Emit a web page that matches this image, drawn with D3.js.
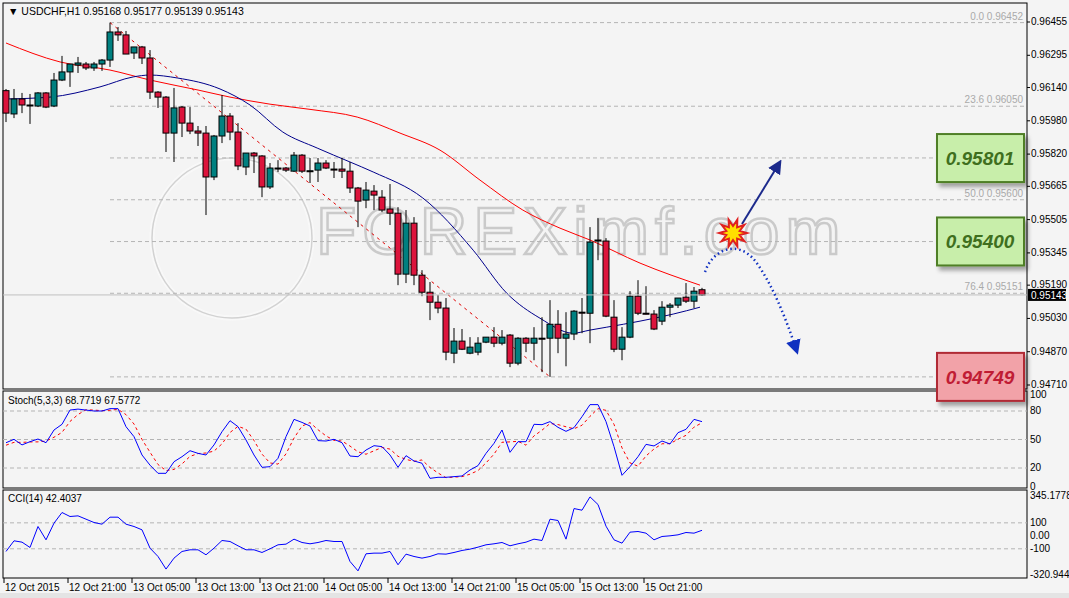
<!DOCTYPE html>
<html>
<head>
<meta charset="utf-8">
<script src="https://cdn.jsdelivr.net/npm/d3@7"></script>
<style>
  body { margin: 0; background: #e9e9e9; }
  text { font-family: Tahoma, "Liberation Sans", Arial, sans-serif; }
</style>
</head>
<body>
<script>
var WIDTH = 1069;
var HEIGHT = 598;

// candles, one per H1 bar, 12 Oct 13:00 .. 16 Oct 04:00
var opens  = [0.96125,0.96013,0.96085,0.96056,0.96051,0.96114,0.96051,0.96176,0.96215,0.96248,0.96253,0.96234,0.96253,0.96272,0.96407,0.96393,0.96306,0.96335,0.96282,0.96118,0.96094,0.95921,0.96046,0.95969,0.95931,0.95921,0.95710,0.95907,0.96003,0.95926,0.95758,0.95825,0.95811,0.95662,0.95753,0.95753,0.95738,0.95815,0.95738,0.95743,0.95777,0.95748,0.95748,0.95738,0.95657,0.95599,0.95642,0.95613,0.95556,0.95536,0.95243,0.95488,0.95238,0.95156,0.95108,0.95080,0.94863,0.94921,0.94863,0.94868,0.94916,0.94940,0.94911,0.94950,0.94815,0.94935,0.94911,0.94935,0.94935,0.95002,0.94935,0.94955,0.95060,0.95055,0.95407,0.95402,0.95036,0.94882,0.94940,0.95137,0.95055,0.95051,0.95017,0.95084,0.95094,0.95132,0.95113,0.95168];
var highs  = [0.96133,0.96133,0.96114,0.96109,0.96118,0.96118,0.96210,0.96292,0.96253,0.96287,0.96263,0.96263,0.96277,0.96452,0.96431,0.96412,0.96335,0.96340,0.96320,0.96123,0.96099,0.96138,0.96051,0.96046,0.95955,0.95955,0.95912,0.96104,0.96017,0.95969,0.95825,0.95830,0.95815,0.95777,0.95791,0.95758,0.95830,0.95820,0.95801,0.95801,0.95791,0.95782,0.95801,0.95782,0.95662,0.95686,0.95671,0.95647,0.95676,0.95565,0.95551,0.95517,0.95262,0.95205,0.95142,0.95128,0.94984,0.94979,0.94940,0.94940,0.94940,0.94988,0.94974,0.94955,0.94940,0.94940,0.94988,0.95036,0.95118,0.95070,0.95060,0.95070,0.95128,0.95469,0.95512,0.95416,0.95118,0.94988,0.95161,0.95214,0.95185,0.95070,0.95113,0.95104,0.95128,0.95200,0.95181,0.95177];
var lows   = [0.95974,0.95993,0.96017,0.95965,0.96046,0.96041,0.96046,0.96171,0.96143,0.96210,0.96224,0.96220,0.96220,0.96239,0.96364,0.96301,0.96277,0.96253,0.96085,0.96042,0.95830,0.95782,0.95902,0.95916,0.95859,0.95527,0.95695,0.95873,0.95887,0.95743,0.95719,0.95729,0.95613,0.95652,0.95734,0.95734,0.95734,0.95729,0.95681,0.95686,0.95748,0.95705,0.95705,0.95633,0.95469,0.95560,0.95551,0.95541,0.95479,0.95190,0.95200,0.95190,0.95137,0.95022,0.95055,0.94829,0.94815,0.94878,0.94858,0.94853,0.94911,0.94892,0.94901,0.94796,0.94805,0.94868,0.94829,0.94772,0.94749,0.94863,0.94800,0.94926,0.94959,0.94911,0.95310,0.95036,0.94868,0.94829,0.94935,0.95046,0.95050,0.94974,0.94998,0.95036,0.95080,0.95104,0.95080,0.95139];
var closes = [0.96017,0.96085,0.96056,0.96054,0.96114,0.96046,0.96176,0.96215,0.96253,0.96258,0.96234,0.96253,0.96272,0.96407,0.96393,0.96301,0.96335,0.96282,0.96118,0.96094,0.95921,0.96042,0.95969,0.95931,0.95921,0.95710,0.95907,0.96003,0.95926,0.95763,0.95825,0.95811,0.95662,0.95753,0.95750,0.95743,0.95815,0.95738,0.95740,0.95777,0.95753,0.95746,0.95738,0.95657,0.95594,0.95647,0.95623,0.95551,0.95536,0.95243,0.95488,0.95238,0.95156,0.95108,0.95080,0.94868,0.94921,0.94882,0.94892,0.94911,0.94940,0.94911,0.94940,0.94815,0.94935,0.94911,0.94935,0.94933,0.95002,0.94935,0.94955,0.95065,0.95058,0.95397,0.95405,0.95041,0.94882,0.94940,0.95137,0.95055,0.95053,0.94979,0.95084,0.95094,0.95128,0.95113,0.95161,0.95143];

// moving averages sampled at bar positions [bar, price]
var maSlow = [[0,0.96354],[6.75,0.96263],[13,0.96224],[18,0.96176],[24,0.96128],[28,0.96094],[33,0.96060],[38,0.96035],[43.9,0.95998],[49.25,0.95921],[54.25,0.95839],[59.25,0.95695],[64.6,0.95551],[69.25,0.95464],[73,0.95407],[79.25,0.95296],[86.75,0.95190]];
var maFast = [[0,0.96085],[5.5,0.96094],[11.75,0.96143],[15.9,0.96191],[18,0.96200],[21.4,0.96186],[26.75,0.96133],[30.5,0.96056],[34.6,0.95926],[38.9,0.95849],[43,0.95782],[45.9,0.95734],[52.1,0.95609],[58.4,0.95358],[62.6,0.95151],[66.75,0.95031],[70.9,0.94959],[73,0.94974],[75.1,0.94988],[79.25,0.95017],[83.4,0.95051],[86.75,0.95084]];

var stochK = [46.6,50.2,44.3,47.7,50.5,46.6,60,66,81,82,81,80,80,82.5,82.5,63.5,53,33.7,23,14.4,14.4,26.6,31.9,38.2,35.4,33.7,44.3,58.2,69.8,63.5,49.5,33.7,20.7,21.4,30.2,53,71.2,68,64.2,48.8,48.4,50.2,46.6,32.6,31.9,
  38.9,43.5,42.5,33.7,20.7,33,27.4,25,9.1,10.2,10.2,10.9,11.6,17.9,22.5,35.4,46,60,36.5,47.7,47.7,66,65.6,68.8,62.8,58.6,62.5,74,86.7,86.7,68.8,42.5,12.3,21.4,31.9,44.9,43.2,48.4,45.3,57.2,60.7,71.2,68.8];
var stochD = [44.0,47.0,47.0,47.4,47.5,48.3,52.4,57.5,69.0,76.3,81.3,81.0,80.3,80.8,81.7,76.2,66.3,50.1,36.6,23.7,17.3,18.5,24.3,32.2,35.2,35.8,37.8,45.4,57.4,63.8,60.9,48.9,34.6,25.3,24.1,34.9,51.5,64.1,67.8,60.3,53.8,49.1,48.4,43.1,37.0,
  34.5,38.1,41.6,39.9,32.3,29.1,27.0,28.5,20.5,14.8,9.8,10.4,10.9,13.5,17.3,25.3,34.6,47.1,47.5,48.1,44.0,53.8,59.8,66.8,65.7,63.4,61.3,65.0,74.4,82.5,80.7,66.0,41.2,25.4,21.9,32.7,40.0,45.5,45.6,50.3,54.4,63.0,67.6];
var cci = [-120.5,-38.5,-48.7,-89.7,71.8,-30.8,97.4,179.5,148.7,153.8,128.2,102.6,89.7,143.6,143.6,89.7,71.8,46.2,-94.9,-159,-256,-171.8,-120.5,-107.7,-107.7,-146,-94.9,-35.9,-43.6,-76.9,-107.7,-107.7,-128.2,-100,-69.2,-64.1,-25.6,-51.3,-61.5,-51.3,-35.9,-43.6,-43.6,-197.4,-270,
  -138.5,-133.3,-133.3,-120.5,-223,-141,-159,-171.8,-159,-138.5,-141,-128.2,-112.8,-102.6,-87.2,-69.2,-61.5,-51.3,-76.9,-61.5,-48.7,-25.6,-35.9,128.2,117.9,-25.6,210,197.4,300,241,74.4,-30.8,-56.4,28.2,33.3,20.5,-30.8,-5.1,0,7.7,25.6,20.5,42.4];

var priceTicks = [0.96455,0.96295,0.96140,0.95980,0.95820,0.95665,0.95505,0.95345,0.95190,0.95030,0.94870,0.94710];
var fibRatios = [0, 23.6, 38.2, 50.0, 61.8, 76.4, 100];
var fibShown = [0, 23.6, 50.0, 76.4];
var fibHigh = 0.96452, fibLow = 0.94749;
var levels = [
  {v: 0.95801, label: "0.95801", kind: "g", from: 34},
  {v: 0.95400, label: "0.95400", kind: "g", from: 47},
  {v: 0.94749, label: "0.94749", kind: "r", from: 68}
];
var timeLabels = ["12 Oct 2015","12 Oct 21:00","13 Oct 05:00","13 Oct 13:00","13 Oct 21:00","14 Oct 05:00","14 Oct 13:00","14 Oct 21:00","15 Oct 05:00","15 Oct 13:00","15 Oct 21:00"];
var stochTicks = [100, 80, 50, 20, 0];
var cciTicks = [345.1778, 100, 0, -100, -320.9442];

var L = 3, R = 1027;
var FS = 10;
var svg = d3.select("body").append("svg").attr("width", WIDTH).attr("height", HEIGHT);

var defs = svg.append("defs");
var sh = defs.append("filter").attr("id", "sh").attr("x", "-20%").attr("y", "-20%").attr("width", "150%").attr("height", "160%");
sh.append("feDropShadow").attr("dx", 3).attr("dy", 4).attr("stdDeviation", 2).attr("flood-color", "#000").attr("flood-opacity", 0.35);
defs.append("marker").attr("id", "ah").attr("viewBox", "0 0 10 10").attr("refX", 8).attr("refY", 5)
  .attr("markerWidth", 7).attr("markerHeight", 7).attr("orient", "auto")
  .append("path").attr("d", "M0,0L10,5L0,10z").attr("fill", "#1c2a8c");
defs.append("marker").attr("id", "ah2").attr("viewBox", "0 0 10 10").attr("refX", 8).attr("refY", 5)
  .attr("markerWidth", 6).attr("markerHeight", 6).attr("orient", "auto")
  .append("path").attr("d", "M0,0L10,5L0,10z").attr("fill", "#1030c0");

svg.append("rect").attr("width", WIDTH).attr("height", HEIGHT).attr("fill", "#f4f4f4");
svg.append("rect").attr("y", 593).attr("width", WIDTH).attr("height", 5).attr("fill", "#e4e4e4");

var x = d3.scaleLinear().domain([0, 87]).range([6, 702]);
var y = d3.scaleLinear().domain([0.94710, 0.96455]).range([385, 22]);
var ys = d3.scaleLinear().domain([0, 100]).range([487, 392]);
var yc = d3.scaleLinear().domain([-320.9442, 345.1778]).range([577.5, 491]);

// panels
[[3, 389], [391, 488], [490, 578]].forEach(function (p) {
  svg.append("rect").attr("x", L).attr("y", p[0]).attr("width", R - L).attr("height", p[1] - p[0])
    .attr("fill", "none").attr("stroke", "#000");
});

// watermark
var wm = svg.append("g").attr("opacity", 0.45);
wm.append("circle").attr("cx", 232).attr("cy", 238).attr("r", 80).attr("fill", "none").attr("stroke", "#fff").attr("stroke-width", 5);
wm.append("circle").attr("cx", 232).attr("cy", 238).attr("r", 80).attr("fill", "none").attr("stroke", "#aaa").attr("stroke-width", 1.5);
wm.append("text").attr("x", 316).attr("y", 254).attr("font-size", 66).attr("letter-spacing", 6)
  .attr("fill", "none").attr("stroke", "#999").attr("stroke-width", 2.5)
  .attr("font-family", "Liberation Sans, Arial").text("FOREXimf.com");

// fib levels
var fibG = svg.append("g");
fibRatios.forEach(function (r) {
  var v = fibHigh - (fibHigh - fibLow) * r / 100;
  fibG.append("line").attr("x1", x(13)).attr("x2", R).attr("y1", y(v)).attr("y2", y(v))
    .attr("stroke", "#b4b4b4").attr("stroke-dasharray", "4,3");
  if (fibShown.indexOf(r) >= 0) {
    fibG.append("text").attr("x", R - 4).attr("y", y(v) - 3).attr("text-anchor", "end")
      .attr("font-size", FS).attr("fill", "#aaa")
      .text(r.toFixed(1) + "  " + v.toFixed(5));
  }
});
fibG.append("line").attr("x1", x(13)).attr("y1", y(fibHigh)).attr("x2", x(68)).attr("y2", y(fibLow))
  .attr("stroke", "#e00000").attr("stroke-dasharray", "3,4");

// support / resistance lines (behind candles)
levels.forEach(function (d) {
  var col = d.kind == "g" ? "#5b8a2c" : "#b4303c";
  svg.append("line").attr("x1", x(d.from)).attr("x2", 937).attr("y1", y(d.v)).attr("y2", y(d.v))
    .attr("stroke", col).attr("stroke-width", 3).attr("filter", "url(#sh)");
});

// moving averages
var maLine = d3.line().x(function (d) { return x(d[0]); }).y(function (d) { return y(d[1]); }).curve(d3.curveMonotoneX);
svg.append("path").attr("d", maLine(maSlow)).attr("fill", "none").attr("stroke", "#ff0000").attr("stroke-width", 1);
svg.append("path").attr("d", maLine(maFast)).attr("fill", "none").attr("stroke", "#00008b").attr("stroke-width", 1);

// candles
var idx = d3.range(opens.length);
var cg = svg.append("g");
cg.selectAll("line.w").data(idx).enter().append("line")
  .attr("x1", function (i) { return x(i); }).attr("x2", function (i) { return x(i); })
  .attr("y1", function (i) { return y(highs[i]); }).attr("y2", function (i) { return y(lows[i]); })
  .attr("stroke", "#000");
cg.selectAll("rect").data(idx).enter().append("rect")
  .attr("x", function (i) { return x(i) - 3; }).attr("width", 6)
  .attr("y", function (i) { return y(Math.max(opens[i], closes[i])); })
  .attr("height", function (i) { return Math.max(1, Math.abs(y(opens[i]) - y(closes[i]))); })
  .attr("fill", function (i) { return closes[i] >= opens[i] ? "#008080" : "#dc143c"; })
  .attr("stroke", "#000").attr("stroke-width", 1);

// current price line
svg.append("line").attr("x1", L).attr("x2", R).attr("y1", y(0.95143)).attr("y2", y(0.95143)).attr("stroke", "#c0c0c0");

// level boxes
levels.forEach(function (d) {
  var g = d.kind == "g";
  svg.append("rect").attr("x", 937).attr("y", y(d.v) - 24).attr("width", 87).attr("height", 48)
    .attr("fill", g ? "#c8eeaa" : "#f2a2a8").attr("stroke", g ? "#4f7f28" : "#b02a36").attr("stroke-width", 2)
    .attr("filter", "url(#sh)");
  svg.append("text").attr("x", 980).attr("y", y(d.v) + 7).attr("text-anchor", "middle")
    .attr("font-size", 19).attr("font-weight", "bold").attr("font-style", "italic")
    .attr("font-family", "Liberation Sans, Arial")
    .attr("fill", g ? "#3f6f1e" : "#c01c34").text(d.label);
});

// annotation arrows
svg.append("line").attr("x1", 742).attr("y1", 224).attr("x2", 780).attr("y2", 162)
  .attr("stroke", "#1c2a8c").attr("stroke-width", 2).attr("marker-end", "url(#ah)");
svg.append("path").attr("d", "M705,272 C712,250 738,238 756,262 C772,284 786,318 797,352")
  .attr("fill", "none").attr("stroke", "#1030c0").attr("stroke-width", 2.5)
  .attr("stroke-dasharray", "1.5,3").attr("marker-end", "url(#ah2)");
var star = d3.range(20).map(function (k) {
  var a = k * Math.PI / 10, r = k % 2 ? 7 : 14;
  return [733 + r * Math.cos(a), 233 + r * Math.sin(a)];
});
svg.append("polygon").attr("points", star.map(function (p) { return p.join(","); }).join(" "))
  .attr("fill", "#ffe000").attr("stroke", "#e02020").attr("stroke-width", 2);

// price axis
var ax = svg.append("g").attr("font-size", FS);
priceTicks.forEach(function (t) {
  ax.append("line").attr("x1", R).attr("x2", R + 3).attr("y1", y(t)).attr("y2", y(t)).attr("stroke", "#000");
  ax.append("text").attr("x", R + 4).attr("y", y(t) + 3).text(t.toFixed(5));
});
ax.append("rect").attr("x", R + 1).attr("y", y(0.95143) - 6).attr("width", 38).attr("height", 12).attr("fill", "#000");
ax.append("text").attr("x", R + 4).attr("y", y(0.95143) + 4).attr("fill", "#fff").text("0.95143");

svg.append("text").attr("x", 8).attr("y", 15).attr("font-size", 10.5)
  .text("\u25BC USDCHF,H1  0.95168 0.95177 0.95139 0.95143");

// stochastic
[80, 50, 20].forEach(function (v) {
  svg.append("line").attr("x1", L).attr("x2", R).attr("y1", ys(v)).attr("y2", ys(v))
    .attr("stroke", "#b4b4b4").attr("stroke-dasharray", "4,3");
});
var sl = d3.line().x(function (d, i) { return x(i); }).y(function (d) { return ys(d); });
svg.append("path").attr("d", sl(stochD)).attr("fill", "none").attr("stroke", "#ff0000").attr("stroke-dasharray", "3,3");
svg.append("path").attr("d", sl(stochK)).attr("fill", "none").attr("stroke", "#0000ff");
svg.append("text").attr("x", 8).attr("y", 404).attr("font-size", FS).text("Stoch(5,3,3) 68.7719 67.5772");
stochTicks.forEach(function (t) {
  svg.append("text").attr("x", R + 3).attr("y", ys(t) + (t == 100 ? 6 : 3)).attr("font-size", FS).text(t);
});

// CCI
[100, -100].forEach(function (v) {
  svg.append("line").attr("x1", L).attr("x2", R).attr("y1", yc(v)).attr("y2", yc(v))
    .attr("stroke", "#b4b4b4").attr("stroke-dasharray", "4,3");
});
var cl = d3.line().x(function (d, i) { return x(i); }).y(function (d) { return yc(d); });
svg.append("path").attr("d", cl(cci)).attr("fill", "none").attr("stroke", "#0000ff");
svg.append("text").attr("x", 8).attr("y", 502).attr("font-size", FS).text("CCI(14) 42.4037");
cciTicks.forEach(function (t, k) {
  var off = k == 0 ? 8 : (k == 4 ? 0 : 3);
  svg.append("text").attr("x", R + 3).attr("y", yc(t) + off).attr("font-size", FS)
    .text(t == 0 ? "0.00" : (Math.abs(t) == 100 ? t : t.toFixed(4)));
});

// time axis
timeLabels.forEach(function (t, k) {
  var xx = x(k * 8) - 2;
  svg.append("line").attr("x1", xx).attr("x2", xx).attr("y1", 578).attr("y2", 583).attr("stroke", "#000");
  svg.append("text").attr("x", xx + 1).attr("y", 591).attr("font-size", FS).text(t);
});
</script>
</body>
</html>
